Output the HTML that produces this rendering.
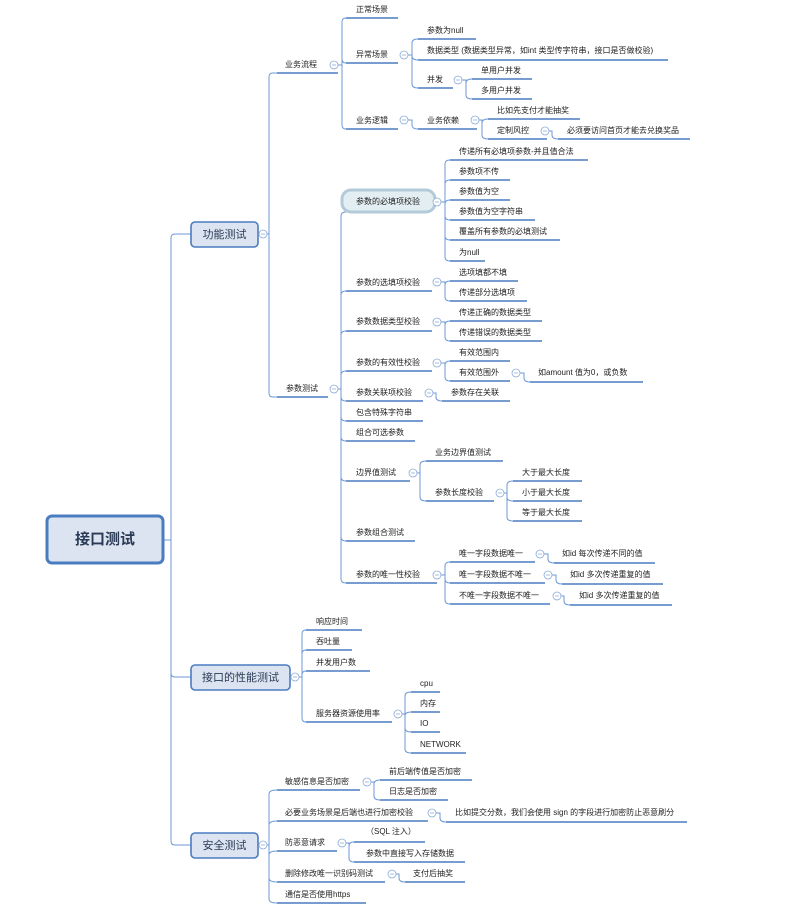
<!DOCTYPE html>
<html><head><meta charset="utf-8"><style>
html,body{margin:0;padding:0;background:#fff;}
svg{display:block;}
text{font-family:"Liberation Sans","Noto Sans CJK SC",sans-serif;font-size:8px;fill:#222;dominant-baseline:middle;}
.u{stroke:#4a7cc0;stroke-width:1.5;}
.c{stroke:#6e98d4;stroke-width:1;fill:none;}
.o{fill:#fff;stroke:#8aaad6;stroke-width:0.8;}
.box{fill:#dbe4f0;stroke:#4a7cc0;stroke-width:1.6;}
.bt{font-size:11px;fill:#2a3a55;text-anchor:middle;}
</style></head><body>
<svg width="802" height="924" viewBox="0 0 802 924" xmlns="http://www.w3.org/2000/svg">
<!-- connectors -->
<g class="c">
<path d="M163,540H171M171,540V238Q171,234 175,234H191M171,540V673Q171,677 175,677H191M171,540V841Q171,845 175,845H191"/>
<path d="M267,234H269V77Q269,73 273,73H277M267,234H269V393Q269,397 273,397H277"/>
<path d="M338,65H342V22Q342,18 346,18M338,65H342V59Q342,63 346,63M338,65H342V125Q342,129 346,129"/>
<path d="M408,55H412V43Q412,39 418,39M408,55H412V56Q412,60 418,60M408,55H412V84Q412,88 418,88"/>
<path d="M462,80H466V83Q466,79 472,79M462,80H466V95Q466,99 472,99"/>
<path d="M408,120H412V125Q412,129 418,129"/>
<path d="M479,120H482V123Q482,119 488,119M479,120H482V135Q482,139 488,139"/>
<path d="M549,131H552V135Q552,139 558,139"/>
<path d="M338,389H341V216Q341,212 346,212M338,389H341V295Q341,291 346,291M338,389H341V335Q341,331 346,331M338,389H341V375Q341,371 346,371M338,389H341V397Q341,401 346,401M338,389H341V417Q341,421 346,421M338,389H341V437Q341,441 346,441M338,389H341V477Q341,481 346,481M338,389H341V537Q341,541 346,541M338,389H341V579Q341,583 346,583"/>
<path d="M441,202H445V164Q445,160 450,160M441,202H445V184Q445,180 450,180M441,202H445V204Q445,200 450,200M441,202H445V216Q445,220 450,220M441,202H445V236Q445,240 450,240M441,202H445V257Q445,261 450,261"/>
<path d="M441,282H445V285Q445,281 450,281M441,282H445V297Q445,301 450,301"/>
<path d="M441,322H445V325Q445,321 450,321M441,322H445V337Q445,341 450,341"/>
<path d="M441,363H445V365Q445,361 450,361M441,363H445V377Q445,381 450,381"/>
<path d="M520,373H524V378Q524,382 530,382"/>
<path d="M433,393H436V397Q436,401 442,401"/>
<path d="M417,473H420V465Q420,461 426,461M417,473H420V497Q420,501 426,501"/>
<path d="M504,493H507V485Q507,481 513,481M504,493H507V497Q507,501 513,501M504,493H507V517Q507,521 513,521"/>
<path d="M441,575H445V566Q445,562 450,562M441,575H445V579Q445,583 450,583M441,575H445V600Q445,604 450,604"/>
<path d="M544,554H548V559Q548,563 554,563"/>
<path d="M552,575H556V580Q556,584 562,584"/>
<path d="M561,596H564V601Q564,605 570,605"/>
<path d="M299,677H302V634Q302,630 306,630M299,677H302V654Q302,650 306,650M299,677H302V675Q302,671 306,671M299,677H302V718Q302,722 306,722"/>
<path d="M402,714H405V696Q405,692 411,692M402,714H405V716Q405,712 411,712M402,714H405V728Q405,732 411,732M402,714H405V749Q405,753 411,753"/>
<path d="M267,845H269V794Q269,790 277,790M267,845H269V825Q269,821 277,821M267,845H269V855Q269,851 277,851M267,845H269V878Q269,882 277,882M267,845H269V899Q269,903 277,903"/>
<path d="M371,782H374V784Q374,780 380,780M371,782H374V796Q374,800 380,800"/>
<path d="M436,813H440V818Q440,822 446,822"/>
<path d="M346,843H349V846Q349,842 354,842M346,843H349V858Q349,862 354,862"/>
<path d="M396,874H399V878Q399,882 405,882"/>
</g>
<!-- underlines -->
<g class="u">
<path d="M277,73H338M346,18H398M346,63H398M418,39H476M418,60H668M418,88H453M472,79H532M472,99H532M346,129H398M418,129H477M488,119H580M488,139H547M558,139H690"/>
<path d="M277,397H328M450,160H588M450,180H510M450,200H510M450,220H535M450,240H560M450,261H485"/>
<path d="M346,291H432M450,281H518M450,301H527M346,331H432M450,321H542M450,341H542M346,371H432M450,361H510M450,381H510M530,382H643"/>
<path d="M346,401H423M442,401H510M346,421H423M346,441H415M346,481H410M426,461H503M426,501H494M513,481H582M513,501H582M513,521H582M346,541H415"/>
<path d="M346,583H437M450,562H535M554,563H655M450,583H545M562,584H663M450,604H550M570,605H672"/>
<path d="M306,630H362M306,650H352M306,671H370M306,722H392M411,692H440M411,712H440M411,732H440M411,753H466"/>
<path d="M277,790H360M380,780H472M380,800H448M277,821H428M446,822H687M277,851H337M354,842H425M354,862H465M277,882H385M405,882H465M277,903H366"/>
</g>
<!-- boxes -->
<rect x="47" y="516" width="116" height="47" rx="5" fill="#dbe4f0" stroke="#4a7cc0" stroke-width="3"/>
<text x="105" y="540" class="bt" style="font-size:15px;font-weight:bold;">接口测试</text>
<rect x="191" y="222" width="67" height="25" rx="4" class="box"/>
<text x="224.5" y="235" class="bt">功能测试</text>
<rect x="191" y="665" width="99" height="25" rx="4" class="box"/>
<text x="240.5" y="678" class="bt">接口的性能测试</text>
<rect x="191" y="833" width="67" height="25" rx="4" class="box"/>
<text x="224.5" y="846" class="bt">安全测试</text>
<rect x="342" y="190" width="93" height="22" rx="9" fill="#e3eef3" stroke="#b3cad8" stroke-width="3"/>
<!-- circles -->
<g>
<circle cx="263" cy="234" r="4" class="o"/><circle cx="334" cy="65" r="4" class="o"/><circle cx="404" cy="55" r="4" class="o"/><circle cx="458" cy="80" r="4" class="o"/><circle cx="404" cy="120" r="4" class="o"/><circle cx="475" cy="120" r="4" class="o"/><circle cx="545" cy="131" r="4" class="o"/>
<circle cx="334" cy="389" r="4" class="o"/><circle cx="437" cy="202" r="4" class="o"/><circle cx="437" cy="282" r="4" class="o"/><circle cx="437" cy="322" r="4" class="o"/><circle cx="437" cy="363" r="4" class="o"/><circle cx="516" cy="373" r="4" class="o"/><circle cx="429" cy="393" r="4" class="o"/><circle cx="413" cy="473" r="4" class="o"/><circle cx="500" cy="493" r="4" class="o"/><circle cx="437" cy="575" r="4" class="o"/><circle cx="540" cy="554" r="4" class="o"/><circle cx="548" cy="575" r="4" class="o"/><circle cx="557" cy="596" r="4" class="o"/>
<circle cx="295" cy="677" r="4" class="o"/><circle cx="398" cy="714" r="4" class="o"/><circle cx="263" cy="845" r="4" class="o"/><circle cx="367" cy="782" r="4" class="o"/><circle cx="432" cy="813" r="4" class="o"/><circle cx="342" cy="843" r="4" class="o"/><circle cx="392" cy="874" r="4" class="o"/>
</g>
<g stroke="#8aaad6" stroke-width="0.8">
<path d="M261,234h4M332,65h4M402,55h4M456,80h4M402,120h4M473,120h4M543,131h4M332,389h4M435,202h4M435,282h4M435,322h4M435,363h4M514,373h4M427,393h4M411,473h4M498,493h4M435,575h4M538,554h4M546,575h4M555,596h4M293,677h4M396,714h4M261,845h4M365,782h4M430,813h4M340,843h4M390,874h4"/>
</g>
<!-- labels -->
<text x="285" y="65">业务流程</text>
<text x="356" y="10">正常场景</text>
<text x="356" y="55">异常场景</text>
<text x="427" y="31">参数为null</text>
<text x="427" y="51">数据类型 (数据类型异常，如int 类型传字符串，接口是否做校验)</text>
<text x="427" y="80">并发</text>
<text x="481" y="71">单用户并发</text>
<text x="481" y="91">多用户并发</text>
<text x="356" y="121">业务逻辑</text>
<text x="427" y="121">业务依赖</text>
<text x="497" y="111">比如先支付才能抽奖</text>
<text x="497" y="131">定制风控</text>
<text x="567" y="131">必须要访问首页才能去兑换奖品</text>
<text x="286" y="389">参数测试</text>
<text x="356" y="202">参数的必填项校验</text>
<text x="459" y="152">传递所有必填项参数-并且值合法</text>
<text x="459" y="172">参数项不传</text>
<text x="459" y="192">参数值为空</text>
<text x="459" y="212">参数值为空字符串</text>
<text x="459" y="232">覆盖所有参数的必填测试</text>
<text x="459" y="253">为null</text>
<text x="356" y="283">参数的选填项校验</text>
<text x="459" y="273">选项填都不填</text>
<text x="459" y="293">传递部分选填项</text>
<text x="356" y="322">参数数据类型校验</text>
<text x="459" y="313">传递正确的数据类型</text>
<text x="459" y="333">传递错误的数据类型</text>
<text x="356" y="363">参数的有效性校验</text>
<text x="459" y="353">有效范围内</text>
<text x="459" y="373">有效范围外</text>
<text x="538" y="373">如amount 值为0，或负数</text>
<text x="356" y="393">参数关联项校验</text>
<text x="451" y="393">参数存在关联</text>
<text x="356" y="413">包含特殊字符串</text>
<text x="356" y="433">组合可选参数</text>
<text x="356" y="473">边界值测试</text>
<text x="435" y="453">业务边界值测试</text>
<text x="435" y="493">参数长度校验</text>
<text x="522" y="473">大于最大长度</text>
<text x="522" y="493">小于最大长度</text>
<text x="522" y="513">等于最大长度</text>
<text x="356" y="533">参数组合测试</text>
<text x="356" y="575">参数的唯一性校验</text>
<text x="459" y="554">唯一字段数据唯一</text>
<text x="562" y="554">如id 每次传递不同的值</text>
<text x="459" y="575">唯一字段数据不唯一</text>
<text x="570" y="575">如id 多次传递重复的值</text>
<text x="459" y="596">不唯一字段数据不唯一</text>
<text x="579" y="596">如id 多次传递重复的值</text>
<text x="316" y="622">响应时间</text>
<text x="316" y="642">吞吐量</text>
<text x="316" y="663">并发用户数</text>
<text x="316" y="714">服务器资源使用率</text>
<text x="420" y="684">cpu</text>
<text x="420" y="704">内存</text>
<text x="420" y="724">IO</text>
<text x="420" y="745">NETWORK</text>
<text x="285" y="782">敏感信息是否加密</text>
<text x="389" y="772">前后端传值是否加密</text>
<text x="389" y="792">日志是否加密</text>
<text x="285" y="813">必要业务场景是后端也进行加密校验</text>
<text x="455" y="813">比如提交分数，我们会使用 sign 的字段进行加密防止恶意刷分</text>
<text x="285" y="843">防恶意请求</text>
<text x="366" y="832">（SQL 注入）</text>
<text x="366" y="854">参数中直接写入存储数据</text>
<text x="285" y="874">删除修改唯一识别码测试</text>
<text x="413" y="874">支付后抽奖</text>
<text x="285" y="895">通信是否使用https</text>
</svg>
</body></html>
